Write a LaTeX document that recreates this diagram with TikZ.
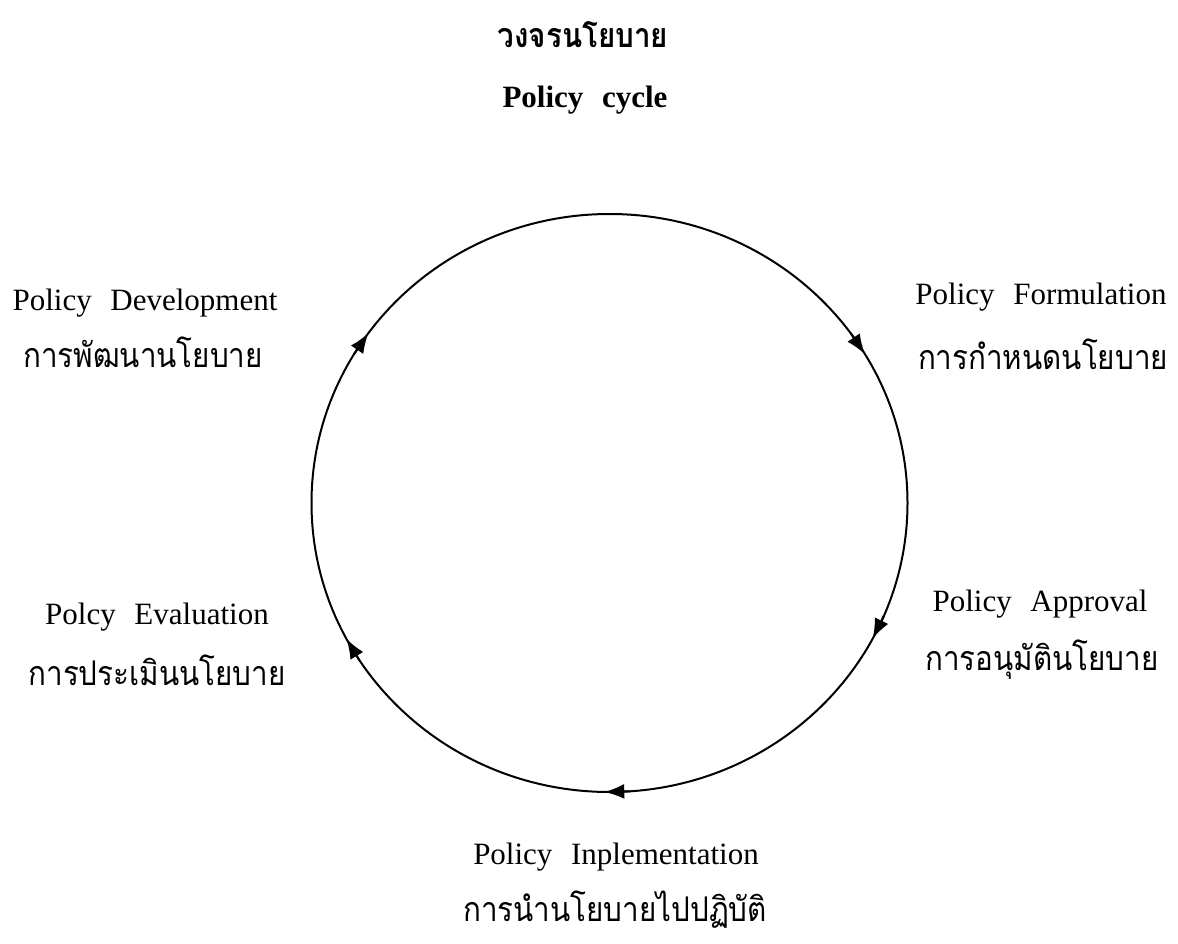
\documentclass[tikz,border=0pt]{standalone}
\usepackage{fontspec}
\setmainfont{Liberation Serif}
\newfontfamily\thaifont[Script=Thai,FakeStretch=0.87]{Loma}
\usetikzlibrary{arrows.meta,calc}
\begin{document}
\begin{tikzpicture}[x=1pt,y=-1pt,
  en/.style={inner sep=0pt,font={\fontsize{31}{37}\selectfont\spaceskip=0.6em\relax}},
  th/.style={inner sep=0pt,font={\thaifont\fontsize{34}{40}\selectfont}},
  cyc/.style={line width=2pt},
  tip/.style={line width=2pt,-{Latex[length=20pt,width=15pt]}}]
\useasboundingbox (0,0) rectangle (1178,944);
\fill[white] (0,0) rectangle (1178,944);

% title
\node[th,font={\thaifont\bfseries\fontsize{34}{40}\selectfont}] (tth) at (583,35) {วงจรนโยบาย};
\node[en,font={\bfseries\fontsize{31}{37}\selectfont\spaceskip=0.6em\relax}] (ten) at (585,100) {Policy cycle};

% the cycle
\coordinate (c) at (609.5,503);
\draw[cyc] (c) ellipse [x radius=298pt, y radius=289pt];
\foreach \a in {144,31,-28,-91,208}{
  \draw[tip] ($(c)+({298*cos(\a+5)},{-289*sin(\a+5)})$) -- ($(c)+({298*cos(\a)},{-289*sin(\a)})$);
}

% stage labels
\node[en] (dev)  at (145,303) {Policy Development};
\node[th] (devt) at (143,352) {การพัฒนานโยบาย};
\node[en] (form)  at (1041,297) {Policy Formulation};
\node[th] (formt) at (1043,354) {การกำหนดนโยบาย};
\node[en] (appr)  at (1040,604) {Policy Approval};
\node[th] (apprt) at (1042,660) {การอนุมัตินโยบาย};
\node[en] (impl)  at (616,857) {Policy Inplementation};
\node[th] (implt) at (615,910) {การนำนโยบายไปปฏิบัติ};
\node[en] (eval)  at (157,617) {Polcy Evaluation};
\node[th] (evalt) at (157,670) {การประเมินนโยบาย};
\end{tikzpicture}
\end{document}
